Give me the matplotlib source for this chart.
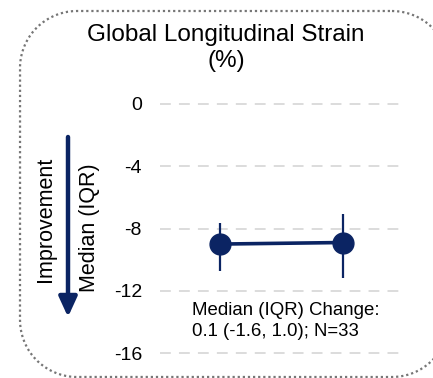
import numpy as np
import matplotlib
matplotlib.use('Agg')
import matplotlib.pyplot as plt

plt.rcParams['font.family'] = ['Liberation Sans', 'DejaVu Sans']

# data
timepoints = [0, 1]
medians = [-9.0, -8.9]
q_upper = [-7.65, -7.05]
q_lower = [-10.75, -11.2]
yticks = [0, -4, -8, -12, -16]
title = 'Global Longitudinal Strain\n(%)'
note = 'Median (IQR) Change:\n0.1 (-1.6, 1.0); N=33'

navy = '#0b2463'

fig = plt.figure(figsize=(4.33, 3.78), dpi=100)

# background axes in pixel units for the dotted rounded frame
bg = fig.add_axes([0, 0, 1, 1])
bg.set_xlim(0, 433)
bg.set_ylim(378, 0)
bg.axis('off')

left, right, top, bottom, r = 20, 449, 11, 377, 57
corners = [(right - r, top + r, -90, 0), (right - r, bottom - r, 0, 90),
           (left + r, bottom - r, 90, 180), (left + r, top + r, 180, 270)]
xs, ys = [], []
for cx, cy, a0, a1 in corners:
    t = np.radians(np.linspace(a0, a1, 40))
    xs.extend(cx + r * np.cos(t))
    ys.extend(cy + r * np.sin(t))
xs.append(xs[0])
ys.append(ys[0])
bg.plot(xs, ys, color='#767676', lw=1.6, ls=(0, (1, 1.3)))

ax = fig.add_axes([160 / 433, 0.0537, 245 / 433, 0.6836])
ax.set_xlim(-0.488, 1.504)
ax.set_ylim(-16.3, 0.3)

for yv in yticks:
    ax.axhline(yv, color='#d9d9d9', lw=1.3, ls=(0, (6, 4.5)), zorder=0)

# IQR whiskers
ax.vlines(timepoints, q_lower, q_upper, color=navy, lw=1.6, zorder=2)
ax.plot(timepoints, medians, color=navy, lw=2.6, marker='o',
        markersize=15, zorder=3)

ax.set_yticks(yticks)
ax.set_yticklabels([str(v) for v in yticks], fontsize=14)
ax.tick_params(axis='y', length=0, pad=13)
ax.set_xticks([])
for s in ax.spines.values():
    s.set_visible(False)
ax.patch.set_alpha(0)

ax.text(-0.23, -12.7, note, fontsize=13.4, va='top', ha='left',
        linespacing=1.3)

fig.text(226 / 433, 1 - 48 / 378, title, fontsize=17.5, ha='center',
         va='center', linespacing=1.25)

fig.text(90 / 433, 1 - 228 / 378, 'Median (IQR)', rotation=90,
         fontsize=15.5, ha='center', va='center')
fig.text(46 / 433, 1 - 219 / 378, 'Improvement', rotation=90,
         fontsize=15.5, ha='center', va='center')

# improvement arrow pointing down
ax.annotate('', xy=(68 / 433, 1 - 317 / 378), xytext=(68 / 433, 1 - 137 / 378),
            xycoords='figure fraction', textcoords='figure fraction',
            arrowprops=dict(arrowstyle='-|>,head_length=1.2,head_width=0.55',
                            color=navy, lw=3.2, shrinkA=0, shrinkB=0))

fig.savefig('out.png', dpi=100)
